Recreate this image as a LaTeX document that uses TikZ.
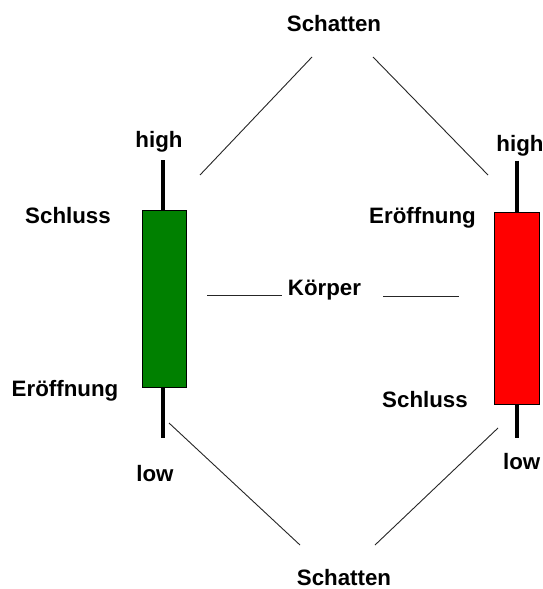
\documentclass[tikz,border=0pt]{standalone}
\usepackage{fontspec}
\setmainfont{Liberation Sans}
\definecolor{cgreen}{RGB}{0,128,0}
\definecolor{cred}{RGB}{255,0,0}
\begin{document}
\begin{tikzpicture}[x=1pt,y=-1pt,
  lbl/.style={anchor=base,inner sep=0pt,font=\fontsize{22.3}{26}\selectfont\bfseries},
  body/.style={draw=black,line width=1pt,inner sep=0pt},
  wick/.style={line width=4.2pt},
  thin/.style={line width=0.9pt,draw=black!85}]
\useasboundingbox[fill=white] (0,0) rectangle (543,589);
% candle bodies
\node[body,fill=cgreen,minimum width=43.5pt,minimum height=176.5pt] (gbody) at (164.25,298.75) {};
\node[body,fill=cred,minimum width=45pt,minimum height=192pt] (rbody) at (517,308) {};
\coordinate (gtop) at (163,160);
\coordinate (gbot) at (163,438);
\coordinate (rtop) at (517.3,160.5);
\coordinate (rbot) at (517.3,438);
\draw[wick] (gtop) -- (gtop |- gbody.north);
\draw[wick] (gbot |- gbody.south) -- (gbot);
\draw[wick] (rtop) -- (rtop |- rbody.north);
\draw[wick] (rbot |- rbody.south) -- (rbot);
% labels
\node[lbl] (schtop) at (334,31) {Schatten};
\node[lbl] (schbot) at (344,585) {Schatten};
\node[lbl] (ghigh) at (159,147) {high};
\node[lbl] (gschl) at (68,223) {Schluss};
\node[lbl] (geroe) at (65,396.5) {Eröffnung};
\node[lbl] (glow) at (155,481.5) {low};
\node[lbl] (koerper) at (324.5,295) {Körper};
\node[lbl] (rhigh) at (520,151) {high};
\node[lbl] (reroe) at (422.5,223) {Eröffnung};
\node[lbl] (rschl) at (425,407.5) {Schluss};
\node[lbl] (rlow) at (521.7,469.5) {low};
% connector lines
\coordinate (a1) at (200,175); \coordinate (a2) at (312,57);
\coordinate (b1) at (373,57);  \coordinate (b2) at (488,175);
\coordinate (c1) at (169,423); \coordinate (c2) at (300,545);
\coordinate (d1) at (498,428); \coordinate (d2) at (375,545);
\coordinate (k1) at (207,295); \coordinate (k2) at (282,295);
\coordinate (k3) at (383,296); \coordinate (k4) at (459,296);
\draw[thin] (a1) -- (a2);
\draw[thin] (b1) -- (b2);
\draw[thin] (c1) -- (c2);
\draw[thin] (d1) -- (d2);
\draw[thin] (k1) -- (k2);
\draw[thin] (k3) -- (k4);
\end{tikzpicture}
\end{document}
